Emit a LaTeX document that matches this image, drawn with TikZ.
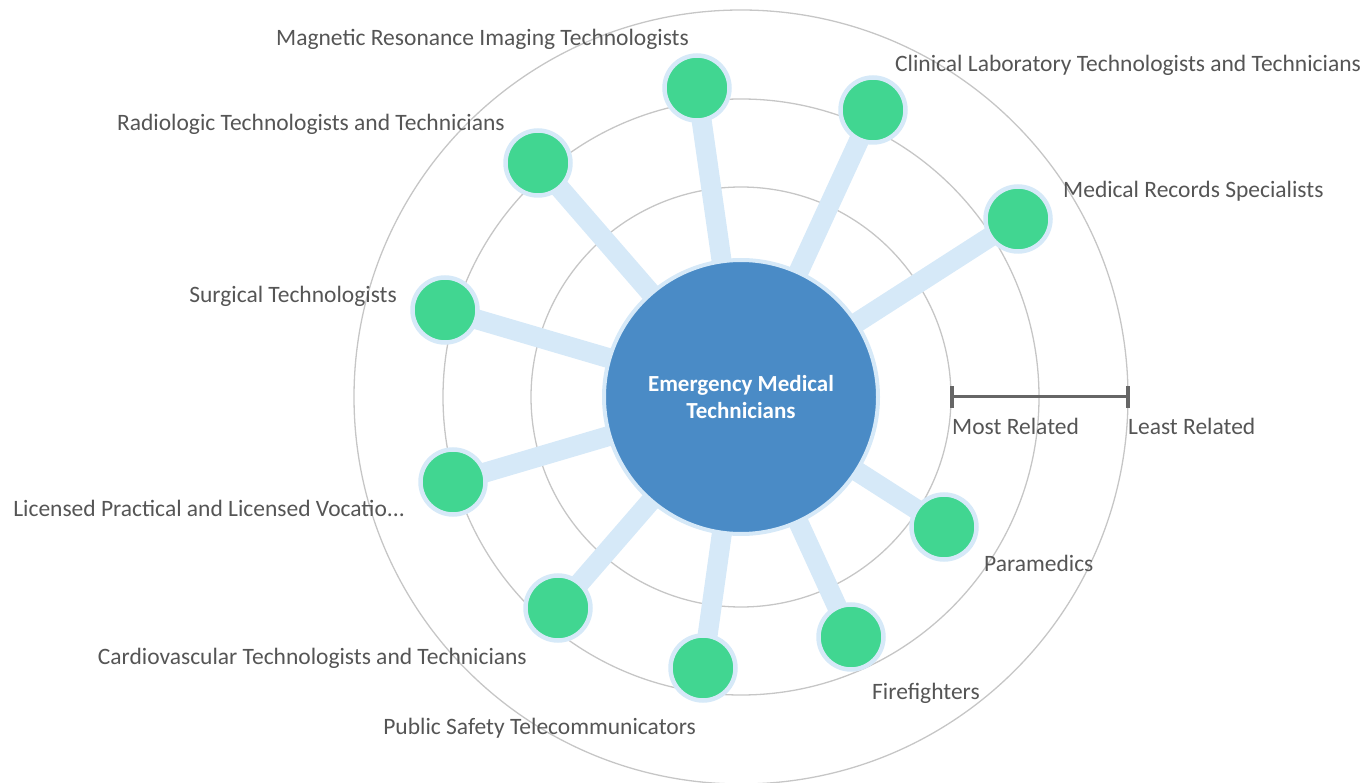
\documentclass[tikz,border=0pt]{standalone}
\usepackage{fontspec}
\setmainfont{Carlito}
\usetikzlibrary{positioning,backgrounds}
\definecolor{ringgray}{HTML}{C6C6C6}
\definecolor{linkblue}{HTML}{D6E9F8}
\definecolor{hubblue}{HTML}{4A8BC6}
\definecolor{occgreen}{HTML}{41D691}
\definecolor{labelgray}{HTML}{555555}
\definecolor{bargray}{HTML}{666666}
\tikzset{
  occ/.style={circle,fill=occgreen,draw=linkblue,line width=4.5pt,minimum size=65pt,inner sep=0pt},
  hub/.style={circle,fill=hubblue,draw=linkblue,line width=4pt,minimum size=274pt,inner sep=0pt,
    text=white,align=center,font=\fontsize{23}{27}\selectfont\bfseries},
  link/.style={draw=linkblue,line width=20pt},
  ring/.style={draw=ringgray,line width=1.3pt},
  lbl/.style={text=labelgray,inner sep=0pt,font=\fontsize{23.5}{28}\selectfont},
}

\begin{document}
\begin{tikzpicture}[x=1pt,y=-1pt]
    \useasboundingbox (0,0) rectangle (1369,783);
    \node[hub] (emt) at (741,397) {Emergency Medical\\Technicians};
    % occupations
    \node[occ] (mri) at (697,88) {};
    \node[occ] (clin) at (873,110) {};
    \node[occ] (rec) at (1018,219) {};
    \node[occ] (radio) at (538,163) {};
    \node[occ] (surg) at (445,310) {};
    \node[occ] (lpn) at (453,482) {};
    \node[occ] (cardio) at (558,608) {};
    \node[occ] (psafe) at (703,668) {};
    \node[occ] (fire) at (851,637) {};
    \node[occ] (para) at (944,527) {};
    \begin{pgfonlayer}{background}
        \draw[ring] (emt.center) circle (210);
        \draw[ring] (emt.center) circle (298);
        \draw[ring] (emt.center) circle (387);
        \draw[link] (emt.center) -- (mri.center);
        \draw[link] (emt.center) -- (clin.center);
        \draw[link] (emt.center) -- (rec.center);
        \draw[link] (emt.center) -- (radio.center);
        \draw[link] (emt.center) -- (surg.center);
        \draw[link] (emt.center) -- (lpn.center);
        \draw[link] (emt.center) -- (cardio.center);
        \draw[link] (emt.center) -- (psafe.center);
        \draw[link] (emt.center) -- (fire.center);
        \draw[link] (emt.center) -- (para.center);
    \end{pgfonlayer}
    % labels
    \node[lbl,anchor=east] (mril) at (689,39) {Magnetic Resonance Imaging Technologists};
    \node[lbl,anchor=west] (clinl) at (895,65) {Clinical Laboratory Technologists and Technicians};
    \node[lbl,anchor=west] (recl) at (1063,191) {Medical Records Specialists};
    \node[lbl,anchor=east] (radiol) at (505,124) {Radiologic Technologists and Technicians};
    \node[lbl,anchor=east] (surgl) at (397,296) {Surgical Technologists};
    \node[lbl,anchor=east] (lpnl) at (405,508) {Licensed Practical and Licensed Vocatio...};
    \node[lbl,anchor=east] (cardiol) at (527,658) {Cardiovascular Technologists and Technicians};
    \node[lbl,anchor=east] (psafel) at (696,728) {Public Safety Telecommunicators};
    \node[lbl,anchor=west] (firel) at (872,693) {Firefighters};
    \node[lbl,anchor=west] (paral) at (984,563) {Paramedics};
    % scale bar
    \coordinate (most) at (952,397);
    \coordinate (least) at (1128,397);
    \draw[bargray,line width=3pt] (most) -- (least);
    \draw[bargray,line width=4pt] ([yshift=-11]most) -- ([yshift=11]most);
    \draw[bargray,line width=4pt] ([yshift=-11]least) -- ([yshift=11]least);
    \node[lbl,anchor=west] (mostl) at ([yshift=-29]most) {Most Related};
    \node[lbl,anchor=west] (leastl) at ([yshift=-29]least) {Least Related};
\end{tikzpicture}
\end{document}
